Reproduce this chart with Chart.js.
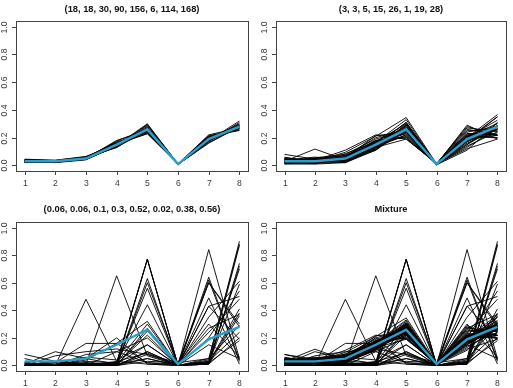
<!DOCTYPE html>
<html>
<head>
<meta charset="utf-8">
<script src="https://cdn.jsdelivr.net/npm/chart.js@4"></script>
<style>
  body { margin: 0; background: #fff; }
  #wrap { position: relative; width: 513px; height: 388px; }
  canvas { position: absolute; }
</style>
</head>
<body>
<div id="wrap">
  <canvas id="c1" width="256" height="200" style="left:0;top:0"></canvas>
  <canvas id="c2" width="257" height="200" style="left:256px;top:0"></canvas>
  <canvas id="c3" width="256" height="188" style="left:0;top:200px"></canvas>
  <canvas id="c4" width="257" height="188" style="left:256px;top:200px"></canvas>
</div>
<script>
var xTicks = [1, 2, 3, 4, 5, 6, 7, 8]
var yTicks = [0, 0.2, 0.4, 0.6, 0.8, 1.0]
var titles = ['(18, 18, 30, 90, 156, 6, 114, 168)', '(3, 3, 5, 15, 26, 1, 19, 28)',
              '(0.06, 0.06, 0.1, 0.3, 0.52, 0.02, 0.38, 0.56)', 'Mixture']

// expected proportions (blue line)
var meanLine = [0.03, 0.03, 0.05, 0.15, 0.26, 0.01, 0.19, 0.28]

var p1Lines = [
  [0.030,0.028,0.052,0.150,0.262,0.010,0.190,0.278],
  [0.042,0.034,0.058,0.160,0.250,0.008,0.180,0.268],
  [0.025,0.022,0.045,0.135,0.290,0.012,0.200,0.271],
  [0.035,0.030,0.055,0.170,0.240,0.010,0.175,0.285],
  [0.022,0.026,0.048,0.140,0.275,0.009,0.210,0.270],
  [0.038,0.036,0.062,0.155,0.230,0.011,0.190,0.300],
  [0.028,0.020,0.040,0.145,0.300,0.010,0.205,0.252],
  [0.033,0.032,0.050,0.180,0.255,0.008,0.165,0.275],
  [0.026,0.030,0.058,0.128,0.268,0.012,0.195,0.283],
  [0.040,0.028,0.047,0.160,0.245,0.010,0.215,0.255],
  [0.031,0.035,0.053,0.150,0.270,0.006,0.170,0.310],
  [0.024,0.025,0.044,0.138,0.282,0.011,0.185,0.291],
  [0.036,0.031,0.060,0.165,0.235,0.010,0.198,0.265],
  [0.029,0.027,0.050,0.148,0.258,0.013,0.178,0.297],
  [0.045,0.038,0.065,0.152,0.228,0.009,0.205,0.258],
  [0.020,0.024,0.043,0.142,0.295,0.010,0.188,0.288],
  [0.034,0.029,0.051,0.175,0.262,0.008,0.160,0.281],
  [0.027,0.033,0.056,0.132,0.250,0.011,0.220,0.271],
  [0.030,0.026,0.049,0.146,0.240,0.010,0.180,0.320]
]

var p2Lines = [
  [0.080,0.045,0.060,0.150,0.240,0.010,0.180,0.235],
  [0.030,0.118,0.040,0.130,0.220,0.005,0.200,0.257],
  [0.020,0.030,0.095,0.210,0.345,0.010,0.120,0.190],
  [0.045,0.020,0.030,0.120,0.300,0.015,0.220,0.250],
  [0.010,0.010,0.020,0.110,0.280,0.004,0.200,0.366],
  [0.030,0.050,0.070,0.180,0.200,0.010,0.290,0.190],
  [0.025,0.035,0.110,0.220,0.190,0.012,0.210,0.198],
  [0.040,0.025,0.050,0.160,0.260,0.006,0.150,0.309],
  [0.015,0.040,0.035,0.140,0.310,0.010,0.230,0.220],
  [0.050,0.030,0.060,0.170,0.230,0.003,0.170,0.287],
  [0.020,0.015,0.025,0.130,0.270,0.010,0.180,0.350],
  [0.035,0.055,0.080,0.190,0.250,0.008,0.140,0.242],
  [0.028,0.030,0.045,0.115,0.290,0.012,0.260,0.220],
  [0.060,0.020,0.040,0.150,0.210,0.009,0.210,0.301],
  [0.012,0.025,0.055,0.165,0.330,0.006,0.190,0.217],
  [0.030,0.045,0.030,0.125,0.240,0.015,0.270,0.245],
  [0.042,0.012,0.065,0.200,0.260,0.005,0.110,0.306],
  [0.022,0.032,0.050,0.140,0.220,0.010,0.200,0.326],
  [0.038,0.060,0.040,0.155,0.280,0.007,0.160,0.260],
  [0.018,0.022,0.085,0.170,0.300,0.011,0.130,0.264],
  [0.048,0.038,0.020,0.120,0.250,0.004,0.240,0.280],
  [0.026,0.028,0.060,0.180,0.200,0.010,0.280,0.216],
  [0.033,0.018,0.045,0.135,0.270,0.013,0.210,0.276],
  [0.015,0.050,0.070,0.160,0.230,0.008,0.180,0.287],
  [0.055,0.035,0.035,0.145,0.290,0.006,0.170,0.264],
  [0.024,0.026,0.055,0.215,0.240,0.012,0.150,0.278],
  [0.036,0.042,0.030,0.110,0.260,0.010,0.250,0.262],
  [0.020,0.015,0.075,0.150,0.310,0.009,0.220,0.201],
  [0.045,0.030,0.050,0.130,0.190,0.014,0.190,0.351],
  [0.030,0.036,0.040,0.175,0.265,0.007,0.230,0.217]
]

var p3Lines = [
  [0.00,0.00,0.48,0.03,0.09,0.00,0.02,0.38],
  [0.00,0.00,0.01,0.65,0.07,0.00,0.03,0.24],
  [0.01,0.00,0.00,0.01,0.77,0.00,0.01,0.20],
  [0.00,0.00,0.01,0.02,0.77,0.00,0.15,0.05],
  [0.00,0.00,0.00,0.00,0.63,0.00,0.01,0.36],
  [0.02,0.00,0.01,0.00,0.60,0.01,0.30,0.06],
  [0.00,0.00,0.00,0.01,0.56,0.00,0.02,0.41],
  [0.00,0.03,0.01,0.02,0.44,0.00,0.49,0.01],
  [0.00,0.02,0.16,0.16,0.32,0.00,0.05,0.29],
  [0.08,0.03,0.01,0.00,0.27,0.00,0.02,0.59],
  [0.00,0.00,0.01,0.00,0.10,0.00,0.84,0.05],
  [0.01,0.10,0.05,0.01,0.15,0.00,0.64,0.04],
  [0.00,0.00,0.03,0.02,0.30,0.00,0.62,0.03],
  [0.00,0.00,0.00,0.00,0.08,0.02,0.60,0.30],
  [0.00,0.00,0.00,0.01,0.05,0.00,0.04,0.90],
  [0.00,0.00,0.01,0.00,0.10,0.00,0.02,0.87],
  [0.01,0.00,0.05,0.20,0.01,0.00,0.01,0.72],
  [0.00,0.00,0.00,0.00,0.25,0.00,0.01,0.74],
  [0.00,0.00,0.02,0.01,0.22,0.00,0.03,0.70],
  [0.02,0.00,0.00,0.03,0.01,0.00,0.35,0.61],
  [0.00,0.07,0.10,0.12,0.08,0.00,0.27,0.37],
  [0.05,0.00,0.04,0.16,0.02,0.01,0.24,0.48],
  [0.00,0.02,0.00,0.00,0.05,0.00,0.43,0.50],
  [0.00,0.00,0.08,0.10,0.20,0.00,0.43,0.19],
  [0.01,0.00,0.00,0.02,0.77,0.00,0.02,0.18],
  [0.00,0.01,0.06,0.04,0.15,0.00,0.20,0.54],
  [0.00,0.00,0.00,0.10,0.02,0.00,0.60,0.28],
  [0.00,0.00,0.02,0.00,0.03,0.02,0.05,0.88]
]

var mixLines = p1Lines.concat(p2Lines, p3Lines)

// R style box, ticks, labels and title
var rAxes = {
  id: 'rAxes',
  afterDraw: function (chart, args, opts) {
    var ctx = chart.ctx
    var a = chart.chartArea
    var xs = chart.scales.x, ys = chart.scales.y
    ctx.save()
    ctx.strokeStyle = '#444'
    ctx.lineWidth = 1
    ctx.strokeRect(Math.round(a.left) + 0.5, Math.round(a.top) + 0.5,
                   Math.round(a.right - a.left), Math.round(a.bottom - a.top))
    ctx.fillStyle = '#3a3a3a'
    ctx.font = '8.6px "Liberation Sans", Arial, sans-serif'
    ctx.textAlign = 'center'
    ctx.textBaseline = 'middle'
    xTicks.forEach(function (t) {
      var px = Math.round(xs.getPixelForValue(t)) + 0.5
      ctx.beginPath()
      ctx.moveTo(px, a.bottom)
      ctx.lineTo(px, a.bottom + 4)
      ctx.stroke()
      ctx.fillText(String(t), px, a.bottom + 13)
    })
    yTicks.forEach(function (t) {
      var py = Math.round(ys.getPixelForValue(t)) + 0.5
      ctx.beginPath()
      ctx.moveTo(a.left - 4, py)
      ctx.lineTo(a.left, py)
      ctx.stroke()
      ctx.save()
      ctx.translate(a.left - 11, py)
      ctx.rotate(-Math.PI / 2)
      ctx.fillText(t.toFixed(1), 0, 0)
      ctx.restore()
    })
    ctx.fillStyle = '#111'
    ctx.font = 'bold 9.3px "Liberation Sans", Arial, sans-serif'
    ctx.fillText(opts.title, (a.left + a.right) / 2, 9)
    ctx.restore()
  }
}

function makePanel(id, lines, title, pad) {
  var datasets = [{
    data: meanLine.map(function (v, i) { return {x: xTicks[i], y: v} }),
    borderColor: '#2b9fcc',
    borderWidth: 2.4
  }]
  lines.forEach(function (ln) {
    datasets.push({
      data: ln.map(function (v, i) { return {x: xTicks[i], y: v} }),
      borderColor: '#000',
      borderWidth: 0.9
    })
  })
  new Chart(document.getElementById(id), {
    type: 'line',
    data: {datasets: datasets},
    options: {
      responsive: false,
      animation: false,
      devicePixelRatio: 1,
      layout: {padding: pad},
      elements: {point: {radius: 0}, line: {tension: 0}},
      plugins: {legend: {display: false}, tooltip: {enabled: false}, rAxes: {title: title}},
      scales: {
        x: {type: 'linear', min: 0.72, max: 8.28, display: false},
        y: {type: 'linear', min: -0.04, max: 1.04, display: false}
      }
    },
    plugins: [rAxes]
  })
}

makePanel('c1', p1Lines, titles[0], {left: 16, right: 8, top: 21, bottom: 29})
makePanel('c2', p2Lines, titles[1], {left: 20, right: 7, top: 21, bottom: 29})
makePanel('c3', p3Lines, titles[2], {left: 16, right: 8, top: 22, bottom: 17})
makePanel('c4', mixLines, titles[3], {left: 20, right: 7, top: 22, bottom: 17})
</script>
</body>
</html>
